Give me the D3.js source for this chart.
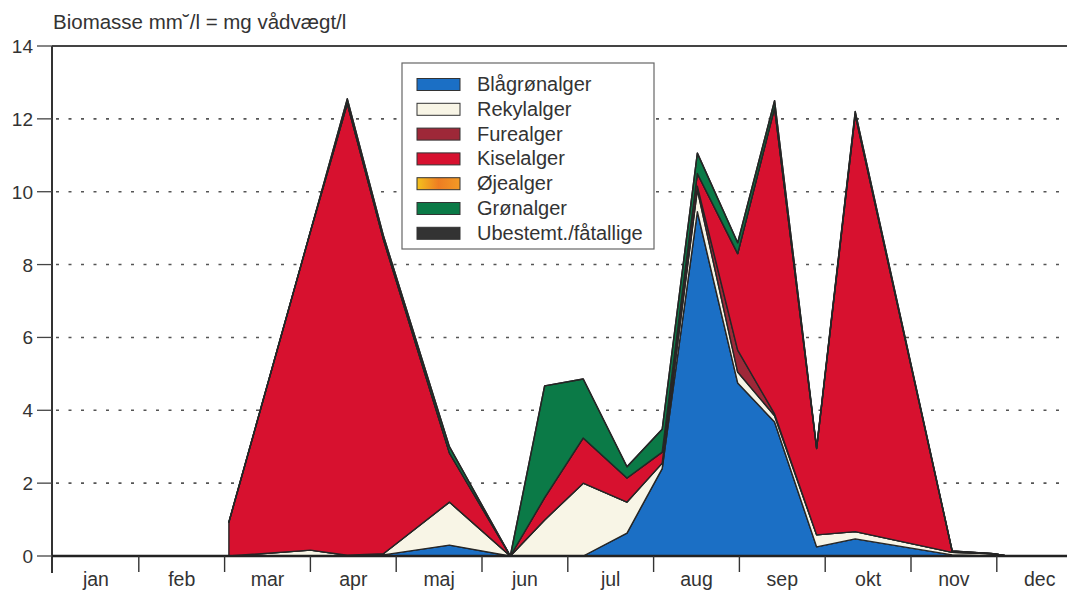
<!DOCTYPE html>
<html>
<head>
<meta charset="utf-8">
<script src="https://cdn.jsdelivr.net/npm/d3@7"></script>
<style>
  body { margin: 0; background: #fff; }
  text { font-family: "Liberation Sans", Arial, sans-serif; fill: #333; }
</style>
</head>
<body>
<div id="chart"></div>
<script>
// sampling dates as month position (0 = 1 Jan, 12 = 31 Dec)
const sampleMonths = [2.05, 3.0, 3.43, 3.85, 4.62, 5.33, 5.73, 6.18, 6.69, 7.10, 7.51, 7.98, 8.41, 8.90, 9.35, 10.48, 10.96, 11.1];

const blaagroen = [0, 0, 0, 0.03, 0.30, 0, 0, 0, 0.63, 2.40, 9.45, 4.75, 3.68, 0.25, 0.47, 0.03, 0, 0];
const rekyl     = [0, 0.16, 0.02, 0.03, 1.18, 0, 0.99, 2.00, 0.85, 0.15, 0.60, 0.30, 0.17, 0.33, 0.20, 0.07, 0.06, 0.01];
const fure      = [0, 0, 0, 0, 0, 0, 0, 0, 0, 0, 0.10, 0.60, 0.05, 0, 0, 0, 0, 0];
const kisel     = [0.93, 8.74, 12.40, 8.64, 1.35, 0, 0.61, 1.24, 0.66, 0.30, 0.35, 2.65, 8.40, 2.37, 11.45, 0.03, 0, 0];
const oeje      = [0, 0, 0, 0, 0, 0, 0, 0, 0, 0, 0, 0, 0, 0, 0, 0, 0, 0];
const groen     = [0, 0, 0.13, 0.10, 0.17, 0, 3.07, 1.62, 0.31, 0.63, 0.56, 0.30, 0.20, 0.02, 0.08, 0.01, 0, 0];
const ubestemt  = [0, 0, 0, 0, 0, 0, 0, 0, 0, 0, 0, 0, 0, 0, 0, 0, 0, 0];

const groups = ["Blågrønalger", "Rekylalger", "Furealger", "Kiselalger", "Øjealger", "Grønalger", "Ubestemt./fåtallige"];
const monthLabels = ["jan", "feb", "mar", "apr", "maj", "jun", "jul", "aug", "sep", "okt", "nov", "dec"];
const yTicks = [0, 2, 4, 6, 8, 10, 12, 14];

const colors = ["#1b6fc5", "#f8f5e6", "#9e2838", "#d7112f", "url(#ojeGrad)", "#0b7a47", "#333333"];

const width = 1067, height = 591;
const svg = d3.select("#chart").append("svg")
  .attr("width", width)
  .attr("height", height);

const defs = svg.append("defs");
const grad = defs.append("linearGradient").attr("id", "ojeGrad");
grad.append("stop").attr("offset", "0%").attr("stop-color", "#f4c21e");
grad.append("stop").attr("offset", "50%").attr("stop-color", "#ee7d22");
grad.append("stop").attr("offset", "100%").attr("stop-color", "#f39a25");

const x = d3.scaleLinear().domain([0, 12]).range([53, 53 + 12 * 85.8]);
const y = d3.scaleLinear().domain([0, 14]).range([556, 46]);

// table for the stack
const series = [blaagroen, rekyl, fure, kisel, oeje, groen, ubestemt];
const table = sampleMonths.map((m, i) => {
  const row = { m };
  groups.forEach((g, k) => row[g] = series[k][i]);
  return row;
});
const stacked = d3.stack().keys(groups)(table);

// dotted grid
svg.append("g")
  .selectAll("line")
  .data(yTicks.filter(d => d > 0 && d < 14))
  .join("line")
  .attr("x1", 56).attr("x2", width)
  .attr("y1", d => y(d)).attr("y2", d => y(d))
  .attr("stroke", "#555")
  .attr("stroke-width", 1.6)
  .attr("stroke-dasharray", "3 9.5");

const area = d3.area()
  .x(d => x(d.data.m))
  .y0(d => y(d[0]))
  .y1(d => y(d[1]));

svg.append("g")
  .selectAll("path")
  .data(stacked)
  .join("path")
  .attr("d", area)
  .attr("fill", (d, i) => colors[i])
  .attr("stroke", "#262626")
  .attr("stroke-width", 1.4)
  .attr("stroke-linejoin", "round");

// frame: top line, left axis, zero line
svg.append("line")
  .attr("x1", 52).attr("x2", width).attr("y1", y(14)).attr("y2", y(14))
  .attr("stroke", "#444").attr("stroke-width", 2);
svg.append("line")
  .attr("x1", 52).attr("x2", 52).attr("y1", y(14)).attr("y2", 573)
  .attr("stroke", "#333").attr("stroke-width", 2);
svg.append("line")
  .attr("x1", 52).attr("x2", width).attr("y1", y(0)).attr("y2", y(0))
  .attr("stroke", "#222").attr("stroke-width", 2.5);

// y axis
const yAxis = svg.append("g");
yAxis.selectAll("line")
  .data(yTicks)
  .join("line")
  .attr("x1", 37).attr("x2", 52)
  .attr("y1", d => y(d)).attr("y2", d => y(d))
  .attr("stroke", "#444").attr("stroke-width", 1.3);
yAxis.selectAll("text")
  .data(yTicks)
  .join("text")
  .attr("x", 33)
  .attr("y", d => y(d) + 7)
  .attr("text-anchor", "end")
  .style("font-size", "19px")
  .text(d => d);

// x axis: month boundaries and labels
const xAxis = svg.append("g");
xAxis.selectAll("line")
  .data(d3.range(1, 13))
  .join("line")
  .attr("x1", d => x(d)).attr("x2", d => x(d))
  .attr("y1", y(0)).attr("y2", 572)
  .attr("stroke", "#333").attr("stroke-width", 1.4);
xAxis.selectAll("text")
  .data(monthLabels)
  .join("text")
  .attr("x", (d, i) => x(i + 0.5))
  .attr("y", 586)
  .attr("text-anchor", "middle")
  .style("font-size", "19.5px")
  .text(d => d);

// title
svg.append("text")
  .attr("x", 53).attr("y", 29)
  .style("font-size", "20.5px")
  .text("Biomasse mm˘/l = mg vådvægt/l");

// legend
const legend = svg.append("g");
legend.append("rect")
  .attr("x", 402).attr("y", 63)
  .attr("width", 252).attr("height", 186)
  .attr("fill", "#fff")
  .attr("stroke", "#666").attr("stroke-width", 1.2);
const items = legend.selectAll("g")
  .data(groups)
  .join("g")
  .attr("transform", (d, i) => `translate(0, ${84.5 + i * 24.8})`);
items.append("rect")
  .attr("x", 417).attr("y", -6)
  .attr("width", 43).attr("height", 12)
  .attr("fill", (d, i) => colors[i])
  .attr("stroke", "#333").attr("stroke-width", 1);
items.append("text")
  .attr("x", 477).attr("y", 6.5)
  .style("font-size", "20px")
  .text(d => d);
</script>
</body>
</html>
